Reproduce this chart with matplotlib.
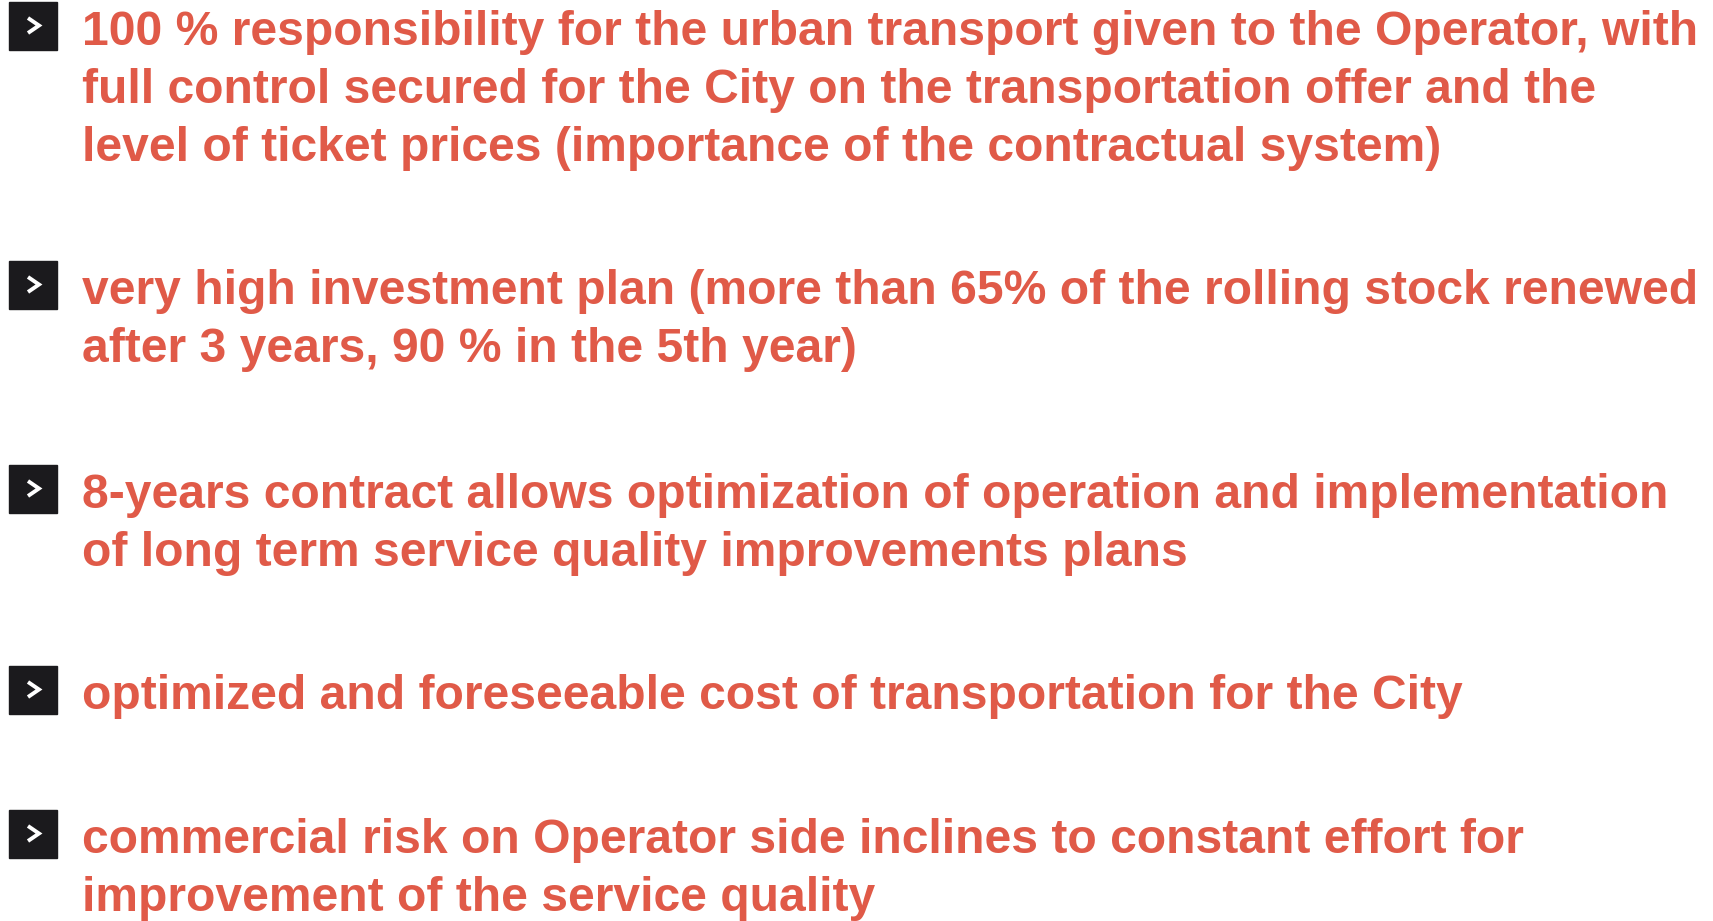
import matplotlib.pyplot as plt
from matplotlib.patches import Rectangle
from matplotlib.lines import Line2D

# slide content
items = [
    ["100 % responsibility for the urban transport given to the Operator, with",
     "full control secured for the City on the transportation offer and the",
     "level of ticket prices (importance of the contractual system)"],
    ["very high investment plan (more than 65% of the rolling stock renewed",
     "after 3 years, 90 % in the 5th year)"],
    ["8-years contract allows optimization of operation and implementation",
     "of long term service quality improvements plans"],
    ["optimized and foreseeable cost of transportation for the City"],
    ["commercial risk on Operator side inclines to constant effort for",
     "improvement of the service quality"],
]
first_baselines = [45, 304, 508, 709, 853]

W, H = 1713, 921
text_color = "#E05A48"
box_color = "#1b1a1d"

fig = plt.figure(figsize=(W / 100, H / 100), dpi=100)
fig.patch.set_facecolor("white")

def fx(x):
    return x / W

def fy(y):
    return 1 - y / H

line_gap = 58
for lines, base in zip(items, first_baselines):
    # bullet box
    top = base - 43
    fig.patches.append(Rectangle((fx(9), fy(top + 48)), 48 / W, 48 / H,
                                 transform=fig.transFigure, color=box_color))
    xs = [fx(9 + 19), fx(9 + 30), fx(9 + 19)]
    ys = [fy(top + 16), fy(top + 23.5), fy(top + 31)]
    fig.lines.append(Line2D(xs, ys, transform=fig.transFigure, color="white",
                            lw=2.8, solid_joinstyle="miter", solid_capstyle="butt"))
    for k, txt in enumerate(lines):
        fig.text(fx(82), fy(base + k * line_gap), txt, color=text_color,
                 fontsize=34.6, fontweight="bold", family="Liberation Sans",
                 va="baseline", ha="left")

fig.savefig("out.png", dpi=100)
